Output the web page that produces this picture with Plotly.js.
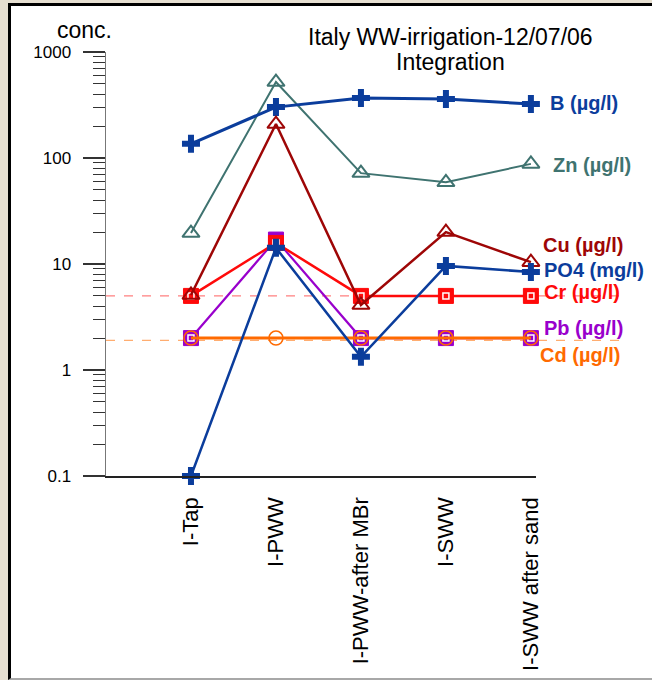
<!DOCTYPE html>
<html>
<head>
<meta charset="utf-8">
<script src="https://cdn.plot.ly/plotly-3.0.1.min.js"></script>
<style>
  html, body { margin:0; padding:0; width:652px; height:680px; overflow:hidden; background:#e6dfd1; }
  #frame { position:absolute; left:8px; top:3px; width:644px; height:677px; box-sizing:border-box;
           background:#ffffff; border-left:3px solid #000; border-top:3px solid #000; border-bottom:2px solid #a8a8a8; }
  #chart { position:absolute; left:0; top:0; width:652px; height:680px; }
</style>
</head>
<body>
<div id="frame"></div>
<div id="chart"></div>
<script>
// ---- data ----
const categories = ["I-Tap", "I-PWW", "I-PWW-after MBr", "I-SWW", "I-SWW after sand"];
const B   = [136, 302, 368, 361, 323];
const Zn  = [19.6, 521, 72, 59, 88];
const Cu  = [5.1, 209, 4.1, 20, 10.4];
const PO4 = [0.1, 14.2, 1.33, 9.6, 8.4];
const Cr  = [5, 15.8, 5, 5, 5];
const Pb  = [2, 17, 2, 2, 2];
const Cd  = [2, 2, 2, 2, 2];
const limitCr = 5;
const limitCd = 1.9;
const yTickVals = [0.1, 1, 10, 100, 1000];
const yTickText = ["0.1", "1", "10", "100", "1000"];
const labels = {
  B: "B (µg/l)", Zn: "Zn (µg/l)", Cu: "Cu (µg/l)", PO4: "PO4 (mg/l)",
  Cr: "Cr (µg/l)", Pb: "Pb (µg/l)", Cd: "Cd (µg/l)"
};
const yTitle = "conc.";
const title1 = "Italy WW-irrigation-12/07/06";
const title2 = "Integration";

// ---- styles ----
const FONT = "Arial, 'Liberation Sans', sans-serif";
const cBlue = "#0b3d9c", cTeal = "#3f7370", cDark = "#9e0606", cRed = "#ff0a0a",
      cPurple = "#9900cc", cOrange = "#ff6a00";
const xi = categories.map((_, i) => i);

const minorVals = [];
[0.1, 1, 10, 100].forEach(d => { for (let k = 2; k <= 9; k++) minorVals.push(+(d * k).toPrecision(3)); });

function line(y, color, width, symbol, msize, mline, name) {
  return {
    x: xi, y: y, type: "scatter", mode: "lines+markers", name: name, cliponaxis: false,
    line: { color: color, width: width },
    marker: { symbol: symbol, size: msize, color: color, line: { color: color, width: mline } }
  };
}
function inner(y) {
  return { x: xi, y: y, type: "scatter", mode: "markers", cliponaxis: false, hoverinfo: "skip",
    marker: { symbol: "square-open", size: 6, color: "#ffffff", line: { color: "#ffffff", width: 1.5 } } };
}

const traces = [
  line(Zn, cTeal, 2, "triangle-up-open", 15, 2, "Zn"),
  line(B, cBlue, 3, "cross", 15, 0, "B"),
  line(Pb, cPurple, 2.2, "square", 15, 1, "Pb"),
  inner(Pb),
  line(Cd, cOrange, 3, "circle-open", 14, 1.5, "Cd"),
  line(Cr, cRed, 2.5, "square", 15, 1, "Cr"),
  inner(Cr),
  line(Cu, cDark, 2.5, "triangle-up-open", 15, 2, "Cu"),
  line(PO4, cBlue, 2.5, "cross", 15, 0, "PO4")
];

const last = categories.length - 1;
function lab(text, y, color, xshift, yshift) {
  return { text: "<b>" + text + "</b>", xref: "x", yref: "y", x: last, y: Math.log10(y[last]),
           xanchor: "left", yanchor: "middle", xshift: xshift, yshift: yshift, showarrow: false,
           font: { family: FONT, size: 20, color: color } };
}

const annotations = [
  lab(labels.B, B, cBlue, 17, 1),
  lab(labels.Zn, Zn, cTeal, 20, -1),
  lab(labels.Cu, Cu, cDark, 10, 17),
  lab(labels.PO4, PO4, cBlue, 11, 2),
  lab(labels.Cr, Cr, cRed, 11, 4),
  lab(labels.Pb, Pb, cPurple, 11, 10),
  lab(labels.Cd, Cd, cOrange, 7, -17),
  { text: yTitle, xref: "paper", yref: "paper", x: -0.049, y: 1.052, xanchor: "center", yanchor: "middle",
    showarrow: false, font: { family: FONT, size: 23, color: "#000" } },
  { text: title1, xref: "paper", yref: "paper", x: 0.802, y: 1.035, xanchor: "center", yanchor: "middle",
    showarrow: false, font: { family: FONT, size: 23, color: "#000" } },
  { text: title2, xref: "paper", yref: "paper", x: 0.802, y: 0.976, xanchor: "center", yanchor: "middle",
    showarrow: false, font: { family: FONT, size: 23, color: "#000" } }
];

const shapes = [
  { type: "line", xref: "paper", yref: "y", x0: 0, x1: 1.207, y0: limitCr, y1: limitCr,
    line: { color: "#ff8080", width: 1.3, dash: "dash" }, layer: "below" },
  { type: "line", xref: "paper", yref: "y", x0: 0, x1: 1.207, y0: limitCd, y1: limitCd,
    line: { color: "#ffad70", width: 1.3, dash: "dash" }, layer: "below" }
];

const layout = {
  width: 652, height: 680,
  margin: { l: 106, r: 116, t: 52, b: 204, pad: 0 },
  paper_bgcolor: "rgba(0,0,0,0)", plot_bgcolor: "rgba(0,0,0,0)",
  showlegend: false,
  font: { family: FONT, color: "#000" },
  xaxis: {
    range: [-1, 4.06], tickvals: xi, ticktext: categories, tickangle: -90,
    tickfont: { family: FONT, size: 22, color: "#000" },
    showline: true, linecolor: "#222", linewidth: 1.5, showgrid: false, zeroline: false,
    ticks: "", ticklabelstandoff: 11, fixedrange: true
  },
  yaxis: {
    type: "log", range: [-1, 3], tickvals: yTickVals, ticktext: yTickText,
    tickfont: { family: FONT, size: 17, color: "#000" },
    showline: true, linecolor: "#777", linewidth: 1.5, showgrid: false, zeroline: false,
    ticks: "outside", ticklen: 22, tickwidth: 1.2, tickcolor: "#333", ticklabelstandoff: 8,
    minor: { tickvals: minorVals, ticks: "outside", ticklen: 12, tickwidth: 1, tickcolor: "#333", showgrid: false },
    fixedrange: true
  },
  annotations: annotations,
  shapes: shapes
};

Plotly.newPlot("chart", traces, layout, { displayModeBar: false, staticPlot: true });
</script>
</body>
</html>
